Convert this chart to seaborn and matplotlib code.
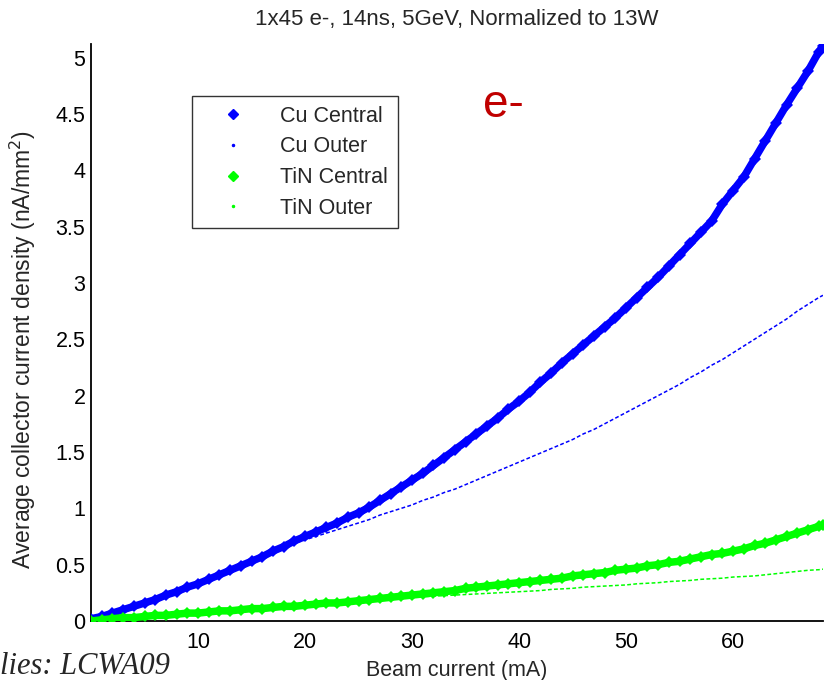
import matplotlib
matplotlib.use("Agg")
import matplotlib.pyplot as plt
from matplotlib.lines import Line2D
from matplotlib import font_manager
import seaborn as sns
import pandas as pd

# ---------------- data ----------------
beam_current = [0, 1, 2, 3, 4, 5, 6, 7, 8, 9, 10, 11, 12, 13, 14, 15, 16, 17, 18, 19,
                20, 21, 22, 23, 24, 25, 26, 27, 28, 29, 30, 31, 32, 33, 34, 35, 36, 37, 38, 39,
                40, 41, 42, 43, 44, 45, 46, 47, 48, 49, 50, 51, 52, 53, 54, 55, 56, 57, 58, 59,
                60, 61, 62, 63, 64, 65, 66, 67, 68, 68.4]

cu_central = [0.02, 0.04, 0.07, 0.10, 0.13, 0.16, 0.19, 0.23, 0.26, 0.30,
              0.33, 0.37, 0.41, 0.45, 0.49, 0.53, 0.57, 0.62, 0.66, 0.71,
              0.75, 0.79, 0.83, 0.87, 0.92, 0.96, 1.01, 1.07, 1.13, 1.19,
              1.25, 1.31, 1.38, 1.45, 1.52, 1.59, 1.66, 1.73, 1.80, 1.88,
              1.95, 2.03, 2.12, 2.20, 2.29, 2.37, 2.45, 2.53, 2.61, 2.69,
              2.78, 2.87, 2.96, 3.05, 3.15, 3.25, 3.35, 3.45, 3.55, 3.70,
              3.82, 3.94, 4.10, 4.26, 4.42, 4.58, 4.73, 4.88, 5.05, 5.10]

cu_outer = [0.02, 0.04, 0.07, 0.10, 0.13, 0.16, 0.19, 0.23, 0.26, 0.30,
            0.33, 0.37, 0.41, 0.45, 0.49, 0.53, 0.57, 0.61, 0.65, 0.69,
            0.72, 0.75, 0.78, 0.81, 0.84, 0.87, 0.90, 0.94, 0.97, 1.00,
            1.03, 1.07, 1.10, 1.14, 1.17, 1.21, 1.25, 1.29, 1.33, 1.37,
            1.41, 1.45, 1.49, 1.53, 1.57, 1.61, 1.66, 1.70, 1.75, 1.80,
            1.85, 1.90, 1.95, 2.00, 2.05, 2.10, 2.16, 2.21, 2.27, 2.32,
            2.38, 2.44, 2.50, 2.56, 2.62, 2.68, 2.75, 2.81, 2.87, 2.89]

tin_central = [0.00, 0.01, 0.02, 0.03, 0.03, 0.04, 0.05, 0.05, 0.06, 0.07,
               0.07, 0.08, 0.09, 0.09, 0.10, 0.11, 0.11, 0.12, 0.13, 0.13,
               0.14, 0.15, 0.16, 0.16, 0.17, 0.18, 0.19, 0.20, 0.21, 0.22,
               0.23, 0.24, 0.25, 0.26, 0.27, 0.29, 0.30, 0.31, 0.32, 0.33,
               0.34, 0.35, 0.36, 0.37, 0.38, 0.40, 0.41, 0.42, 0.43, 0.45,
               0.46, 0.47, 0.49, 0.50, 0.52, 0.53, 0.55, 0.57, 0.59, 0.60,
               0.62, 0.64, 0.67, 0.69, 0.72, 0.75, 0.78, 0.81, 0.84, 0.85]

tin_outer = [0.00, 0.01, 0.02, 0.03, 0.03, 0.04, 0.05, 0.05, 0.06, 0.07,
             0.07, 0.08, 0.09, 0.09, 0.10, 0.11, 0.11, 0.12, 0.13, 0.13,
             0.14, 0.15, 0.16, 0.16, 0.17, 0.18, 0.19, 0.195, 0.20, 0.205,
             0.21, 0.215, 0.22, 0.225, 0.23, 0.235, 0.24, 0.245, 0.25, 0.255,
             0.26, 0.265, 0.27, 0.28, 0.285, 0.29, 0.30, 0.305, 0.31, 0.315,
             0.32, 0.33, 0.335, 0.34, 0.35, 0.355, 0.36, 0.37, 0.375, 0.38,
             0.39, 0.395, 0.40, 0.41, 0.42, 0.43, 0.44, 0.45, 0.455, 0.46]

series_names = ["Cu Central", "Cu Outer", "TiN Central", "TiN Outer"]
x_ticks = [10, 20, 30, 40, 50, 60]
y_ticks = [0, 0.5, 1, 1.5, 2, 2.5, 3, 3.5, 4, 4.5, 5]
y_tick_labels = ["0", "0.5", "1", "1.5", "2", "2.5", "3", "3.5", "4", "4.5", "5"]

# ---------------- style ----------------
sns.set_style("white")
names = {f.name for f in font_manager.fontManager.ttflist}
base_font = "Liberation Sans Narrow" if "Liberation Sans Narrow" in names else "Liberation Sans"
plt.rcParams["font.family"] = [base_font, "DejaVu Sans"]

BLUE = "#0000FF"
GREEN = "#00FF00"
FS = 15.5

fig = plt.figure(figsize=(8.34, 6.80), dpi=100)
ax = fig.add_axes([91 / 834, 59 / 680, 732 / 834, 577 / 680])

df = pd.DataFrame({"x": beam_current, "cu_c": cu_central, "cu_o": cu_outer,
                   "tin_c": tin_central, "tin_o": tin_outer})

# outer series: thin dotted traces
sns.lineplot(data=df, x="x", y="cu_o", ax=ax, color=BLUE, lw=1.1,
             estimator=None, sort=False, zorder=2)
ax.lines[-1].set_dashes([2.5, 1.5])
sns.lineplot(data=df, x="x", y="tin_o", ax=ax, color=GREEN, lw=1.1,
             estimator=None, sort=False, zorder=2)
ax.lines[-1].set_dashes([2.5, 1.5])

# central series: thick bands of diamonds
sns.lineplot(data=df, x="x", y="cu_c", ax=ax, color=BLUE, lw=5.4, marker="D",
             markersize=6, markeredgewidth=0, estimator=None, sort=False, zorder=3)
sns.lineplot(data=df, x="x", y="tin_c", ax=ax, color=GREEN, lw=5.4, marker="D",
             markersize=6, markeredgewidth=0, estimator=None, sort=False, zorder=3)

ax.set_xlim(0, 68.4)
ax.set_ylim(0, 5.12)
ax.set_xticks(x_ticks)
ax.set_xticklabels([str(t) for t in x_ticks])
ax.set_yticks(y_ticks)
ax.set_yticklabels(y_tick_labels)

for s in ["top", "right"]:
    ax.spines[s].set_visible(False)
for s in ["left", "bottom"]:
    ax.spines[s].set_color("black")
    ax.spines[s].set_linewidth(1.3)

ax.tick_params(axis="both", direction="in", length=6, width=1.1, colors="black",
               labelsize=FS, pad=4)
ax.tick_params(axis="x", pad=8)

ax.set_xlabel("Beam current (mA)", fontsize=FS, labelpad=5)
ax.set_ylabel("Average collector current density (nA/mm$^2$)", fontsize=FS + 1)
ax.yaxis.set_label_coords(-0.072, 0.47)
ax.set_title("1x45 e-, 14ns, 5GeV, Normalized to 13W", fontsize=FS + 0.5, pad=14)

# legend
handles = [
    Line2D([], [], color=BLUE, marker="D", markersize=5, lw=0),
    Line2D([], [], color=BLUE, marker=".", markersize=3, lw=0),
    Line2D([], [], color=GREEN, marker="D", markersize=5, lw=0),
    Line2D([], [], color=GREEN, marker=".", markersize=3, lw=0),
]
leg = ax.legend(handles, series_names, loc="upper left",
                bbox_to_anchor=((192 - 91) / 732, (621 - 96) / 577),
                borderaxespad=0, frameon=True, fancybox=False, fontsize=FS,
                handletextpad=0.75, labelspacing=0.45, borderpad=0.45,
                handlelength=2.9)
leg.get_frame().set_edgecolor("black")
leg.get_frame().set_linewidth(1.0)

ax.text(0.564, 0.895, "e-", transform=ax.transAxes, color="#C00000",
        fontsize=33, ha="center", va="center", family=["Liberation Sans", "DejaVu Sans"])

fig.text(0.0, 13 / 680, "lies: LCWA09", ha="left", va="center",
         fontsize=22, style="italic", family=["Liberation Serif", "DejaVu Serif"])

fig.savefig("out.png", dpi=100)
